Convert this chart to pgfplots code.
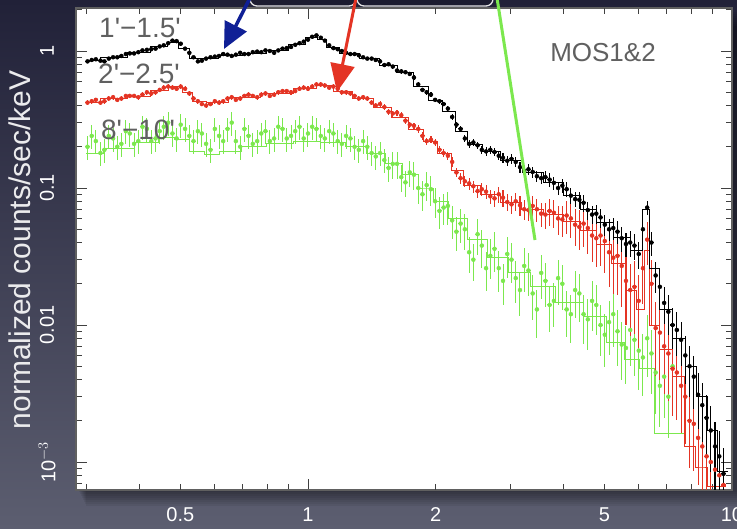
\documentclass[border=0pt]{standalone}
\usepackage{pgfplots}
\pgfplotsset{compat=1.18}
\usepackage{pgfplotstable}
\usepackage{fontspec}
\setmainfont{Liberation Sans}
\newfontfamily\lab{Liberation Sans}
\usetikzlibrary{arrows.meta}

\definecolor{slidetop}{RGB}{33,33,56}
\definecolor{slidemid}{RGB}{52,54,74}
\definecolor{slidebot}{RGB}{92,94,112}
\definecolor{specred}{RGB}{228,52,36}
\definecolor{specgreen}{RGB}{124,232,78}
\definecolor{arrowblue}{RGB}{16,32,150}
\definecolor{labgray}{RGB}{96,96,96}

% MOS1+2 spectra, three annuli: energy (keV), counts/s/keV, relative error
\pgfplotstableread{
E y ey
0.302 0.84 0.03
0.309 0.86 0.03
0.316 0.87 0.03
0.324 0.85 0.03
0.331 0.84 0.03
0.339 0.88 0.03
0.347 0.90 0.03
0.355 0.90 0.03
0.363 0.92 0.03
0.372 0.95 0.03
0.380 0.96 0.03
0.389 0.96 0.03
0.398 0.98 0.03
0.407 1.01 0.03
0.417 1.02 0.03
0.427 1.03 0.03
0.437 1.04 0.03
0.447 1.08 0.03
0.457 1.10 0.03
0.468 1.14 0.03
0.479 1.19 0.03
0.490 1.18 0.03
0.501 1.13 0.03
0.513 1.04 0.03
0.525 0.97 0.03
0.537 0.90 0.03
0.550 0.84 0.03
0.562 0.85 0.03
0.575 0.88 0.03
0.589 0.90 0.03
0.603 0.91 0.03
0.617 0.92 0.03
0.631 0.95 0.03
0.646 0.94 0.03
0.661 0.92 0.03
0.676 0.94 0.03
0.692 0.97 0.03
0.708 0.95 0.03
0.724 0.95 0.03
0.741 0.98 0.03
0.759 0.99 0.03
0.776 0.98 0.03
0.794 1.01 0.03
0.813 1.00 0.03
0.832 0.97 0.03
0.851 1.01 0.03
0.871 1.04 0.03
0.891 1.05 0.03
0.912 1.07 0.03
0.933 1.11 0.03
0.955 1.14 0.03
0.977 1.17 0.03
1.000 1.21 0.03
1.023 1.27 0.03
1.047 1.30 0.03
1.072 1.25 0.03
1.096 1.19 0.03
1.122 1.10 0.03
1.148 1.05 0.03
1.175 1.03 0.03
1.202 1.00 0.03
1.230 0.97 0.03
1.259 0.95 0.03
1.288 0.95 0.03
1.318 0.93 0.03
1.349 0.90 0.03
1.380 0.88 0.03
1.413 0.88 0.03
1.445 0.86 0.03
1.479 0.84 0.035
1.514 0.79 0.035
1.549 0.80 0.035
1.585 0.77 0.035
1.622 0.72 0.035
1.660 0.71 0.035
1.698 0.70 0.035
1.738 0.68 0.035
1.778 0.64 0.04
1.820 0.57 0.04
1.862 0.52 0.04
1.905 0.50 0.04
1.950 0.48 0.04
1.995 0.44 0.04
2.042 0.43 0.04
2.089 0.41 0.04
2.138 0.38 0.05
2.188 0.33 0.05
2.239 0.29 0.05
2.291 0.27 0.05
2.344 0.23 0.06
2.399 0.21 0.06
2.455 0.215 0.06
2.512 0.205 0.06
2.570 0.19 0.06
2.630 0.185 0.07
2.692 0.19 0.07
2.754 0.183 0.07
2.818 0.172 0.07
2.884 0.166 0.08
2.951 0.158 0.08
3.020 0.163 0.08
3.090 0.155 0.08
3.162 0.142 0.09
3.236 0.133 0.09
3.311 0.137 0.09
3.388 0.131 0.09
3.467 0.122 0.10
3.548 0.118 0.10
3.631 0.120 0.10
3.715 0.115 0.11
3.802 0.109 0.11
3.890 0.100 0.11
3.981 0.104 0.12
4.074 0.098 0.12
4.169 0.088 0.13
4.266 0.083 0.13
4.365 0.082 0.14
4.467 0.078 0.14
4.571 0.069 0.15
4.677 0.064 0.15
4.786 0.065 0.16
4.898 0.061 0.16
5.012 0.054 0.17
5.129 0.050 0.18
5.248 0.051 0.18
5.370 0.048 0.19
5.495 0.043 0.20
5.623 0.039 0.20
5.754 0.040 0.21
5.888 0.038 0.22
6.026 0.033 0.22
6.166 0.050 0.18
6.310 0.072 0.12
6.457 0.040 0.20
6.607 0.023 0.25
6.761 0.019 0.28
6.918 0.0145 0.30
7.079 0.0125 0.32
7.244 0.0100 0.33
7.413 0.0092 0.35
7.586 0.0078 0.36
7.762 0.0060 0.38
7.943 0.0050 0.40
8.128 0.0042 0.42
8.318 0.0031 0.44
8.511 0.0026 0.46
8.710 0.0021 0.48
8.913 0.0017 0.50
9.120 0.0013 0.52
9.333 0.0011 0.54
9.550 0.00082 0.55
}\blackdata

\pgfplotstableread{
E y ey
0.302 0.42 0.04
0.309 0.43 0.04
0.316 0.44 0.04
0.324 0.42 0.04
0.331 0.43 0.04
0.339 0.45 0.04
0.347 0.46 0.04
0.355 0.44 0.04
0.363 0.45 0.04
0.372 0.47 0.04
0.380 0.47 0.04
0.389 0.47 0.04
0.398 0.46 0.04
0.407 0.48 0.04
0.417 0.50 0.04
0.427 0.49 0.04
0.437 0.50 0.04
0.447 0.52 0.04
0.457 0.54 0.04
0.468 0.55 0.04
0.479 0.54 0.04
0.490 0.53 0.04
0.501 0.55 0.04
0.513 0.53 0.04
0.525 0.49 0.04
0.537 0.45 0.04
0.550 0.43 0.04
0.562 0.41 0.04
0.575 0.40 0.04
0.589 0.41 0.04
0.603 0.43 0.04
0.617 0.42 0.04
0.631 0.43 0.04
0.646 0.45 0.04
0.661 0.46 0.04
0.676 0.44 0.04
0.692 0.45 0.04
0.708 0.47 0.04
0.724 0.48 0.04
0.741 0.47 0.04
0.759 0.46 0.04
0.776 0.48 0.04
0.794 0.49 0.04
0.813 0.47 0.04
0.832 0.48 0.04
0.851 0.50 0.04
0.871 0.51 0.04
0.891 0.51 0.04
0.912 0.50 0.04
0.933 0.51 0.04
0.955 0.53 0.04
0.977 0.54 0.04
1.000 0.53 0.04
1.023 0.55 0.04
1.047 0.57 0.04
1.072 0.57 0.04
1.096 0.56 0.04
1.122 0.54 0.04
1.148 0.55 0.04
1.175 0.53 0.04
1.202 0.50 0.04
1.230 0.50 0.04
1.259 0.49 0.04
1.288 0.47 0.04
1.318 0.45 0.04
1.349 0.46 0.045
1.380 0.45 0.045
1.413 0.42 0.045
1.445 0.40 0.045
1.479 0.41 0.045
1.514 0.39 0.045
1.549 0.36 0.05
1.585 0.35 0.05
1.622 0.355 0.05
1.660 0.34 0.05
1.698 0.31 0.05
1.738 0.29 0.05
1.778 0.285 0.05
1.820 0.27 0.06
1.862 0.24 0.06
1.905 0.22 0.06
1.950 0.225 0.06
1.995 0.215 0.06
2.042 0.19 0.07
2.089 0.18 0.07
2.138 0.172 0.07
2.188 0.155 0.08
2.239 0.13 0.08
2.291 0.118 0.09
2.344 0.112 0.09
2.399 0.108 0.10
2.455 0.103 0.10
2.512 0.095 0.11
2.570 0.098 0.11
2.630 0.094 0.12
2.692 0.087 0.12
2.754 0.084 0.13
2.818 0.090 0.13
2.884 0.085 0.14
2.951 0.079 0.14
3.020 0.076 0.15
3.090 0.080 0.15
3.162 0.075 0.16
3.236 0.070 0.17
3.311 0.069 0.17
3.388 0.074 0.18
3.467 0.070 0.19
3.548 0.065 0.20
3.631 0.064 0.21
3.715 0.068 0.22
3.802 0.066 0.23
3.890 0.060 0.24
3.981 0.059 0.26
4.074 0.063 0.27
4.169 0.060 0.28
4.266 0.054 0.30
4.365 0.052 0.32
4.467 0.055 0.33
4.571 0.051 0.35
4.677 0.045 0.36
4.786 0.043 0.38
4.898 0.045 0.40
5.012 0.041 0.42
5.129 0.034 0.44
5.248 0.031 0.46
5.370 0.032 0.48
5.495 0.027 0.50
5.623 0.021 0.52
5.754 0.018 0.54
5.888 0.019 0.55
6.026 0.015 0.55
6.166 0.026 0.45
6.310 0.042 0.35
6.457 0.020 0.50
6.607 0.0095 0.55
6.761 0.0088 0.55
6.918 0.0070 0.55
7.079 0.0062 0.55
7.244 0.0048 0.55
7.413 0.0045 0.55
7.586 0.0036 0.55
7.762 0.0030 0.55
7.943 0.0020 0.55
8.128 0.0019 0.55
8.318 0.0015 0.55
8.511 0.0013 0.55
8.710 0.0011 0.55
8.913 0.00100 0.55
9.120 0.00088 0.55
9.333 0.00080 0.55
9.550 0.00068 0.55
}\reddata

\pgfplotstableread{
E y ey
0.302 0.20 0.20
0.309 0.24 0.20
0.316 0.22 0.20
0.324 0.18 0.20
0.331 0.19 0.20
0.339 0.24 0.20
0.347 0.23 0.20
0.355 0.20 0.20
0.363 0.21 0.20
0.372 0.26 0.20
0.380 0.25 0.20
0.389 0.21 0.20
0.398 0.22 0.20
0.407 0.28 0.20
0.417 0.27 0.20
0.427 0.22 0.20
0.437 0.23 0.20
0.447 0.26 0.20
0.457 0.28 0.20
0.468 0.30 0.20
0.479 0.25 0.20
0.490 0.23 0.20
0.501 0.29 0.20
0.513 0.27 0.20
0.525 0.24 0.20
0.537 0.22 0.20
0.550 0.26 0.20
0.562 0.25 0.20
0.575 0.21 0.20
0.589 0.19 0.20
0.603 0.27 0.20
0.617 0.24 0.20
0.631 0.22 0.20
0.646 0.27 0.20
0.661 0.30 0.20
0.676 0.22 0.20
0.692 0.20 0.20
0.708 0.27 0.20
0.724 0.24 0.20
0.741 0.21 0.20
0.759 0.22 0.20
0.776 0.25 0.20
0.794 0.26 0.20
0.813 0.22 0.20
0.832 0.23 0.20
0.851 0.28 0.20
0.871 0.27 0.20
0.891 0.23 0.20
0.912 0.24 0.20
0.933 0.26 0.20
0.955 0.28 0.20
0.977 0.23 0.20
1.000 0.25 0.20
1.023 0.28 0.20
1.047 0.27 0.20
1.072 0.24 0.20
1.096 0.23 0.20
1.122 0.26 0.20
1.148 0.25 0.20
1.175 0.22 0.20
1.202 0.21 0.20
1.230 0.24 0.20
1.259 0.23 0.20
1.288 0.20 0.20
1.318 0.19 0.20
1.349 0.22 0.20
1.380 0.20 0.20
1.413 0.18 0.20
1.445 0.17 0.20
1.479 0.18 0.20
1.514 0.16 0.20
1.549 0.14 0.21
1.585 0.15 0.22
1.622 0.15 0.22
1.660 0.12 0.22
1.698 0.11 0.22
1.738 0.13 0.22
1.778 0.125 0.23
1.820 0.10 0.24
1.862 0.090 0.24
1.905 0.105 0.24
1.950 0.098 0.25
1.995 0.080 0.25
2.042 0.068 0.26
2.089 0.072 0.26
2.138 0.074 0.27
2.188 0.058 0.27
2.239 0.048 0.28
2.291 0.055 0.28
2.344 0.050 0.29
2.399 0.034 0.30
2.455 0.030 0.30
2.512 0.046 0.30
2.570 0.038 0.31
2.630 0.026 0.32
2.692 0.032 0.32
2.754 0.036 0.32
2.818 0.026 0.33
2.884 0.021 0.33
2.951 0.033 0.33
3.020 0.030 0.33
3.090 0.022 0.34
3.162 0.018 0.35
3.236 0.027 0.35
3.311 0.025 0.35
3.388 0.017 0.36
3.467 0.013 0.38
3.548 0.024 0.36
3.631 0.021 0.35
3.715 0.014 0.36
3.802 0.015 0.36
3.890 0.022 0.36
3.981 0.020 0.36
4.074 0.013 0.37
4.169 0.012 0.38
4.266 0.018 0.38
4.365 0.017 0.38
4.467 0.012 0.39
4.571 0.011 0.40
4.677 0.015 0.40
4.786 0.014 0.40
4.898 0.010 0.41
5.012 0.0085 0.42
5.129 0.0105 0.42
5.248 0.012 0.42
5.370 0.0090 0.44
5.495 0.0072 0.45
5.623 0.0068 0.45
5.754 0.0092 0.45
5.888 0.0078 0.46
6.026 0.0065 0.48
6.166 0.0058 0.48
6.310 0.0080 0.48
6.457 0.0062 0.49
6.607 0.0045 0.50
6.761 0.0036 0.50
6.918 0.0042 0.50
7.079 0.0030 0.50
7.244 0.0050 0.50
}\greendata

% best-fit models (step functions)
\pgfplotstableread{
E y
0.300 0.85
0.35 0.90
0.40 0.98
0.45 1.08
0.48 1.16
0.51 1.05
0.54 0.88
0.58 0.88
0.65 0.93
0.75 0.97
0.85 1.01
0.95 1.12
1.02 1.25
1.08 1.22
1.13 1.06
1.25 0.96
1.40 0.88
1.55 0.79
1.70 0.70
1.85 0.55
2.00 0.44
2.15 0.36
2.30 0.26
2.45 0.21
2.70 0.185
3.00 0.160
3.40 0.130
3.80 0.110
4.20 0.088
4.60 0.070
5.00 0.056
5.50 0.044
6.00 0.035
6.30 0.070
6.50 0.026
7.00 0.013
7.50 0.0080
8.00 0.0050
8.50 0.0030
9.00 0.0017
9.50 0.00085
9.80 0.00085
}\blackmodel

\pgfplotstableread{
E y
0.300 0.42
0.35 0.45
0.40 0.47
0.45 0.52
0.49 0.55
0.52 0.50
0.55 0.43
0.60 0.42
0.70 0.46
0.85 0.49
1.00 0.53
1.10 0.56
1.20 0.51
1.35 0.45
1.50 0.39
1.65 0.33
1.80 0.27
1.95 0.22
2.10 0.18
2.25 0.135
2.40 0.105
2.70 0.090
3.00 0.079
3.40 0.070
3.80 0.064
4.20 0.057
4.60 0.049
5.00 0.039
5.40 0.028
5.80 0.018
6.10 0.013
6.30 0.035
6.50 0.010
7.00 0.0066
7.50 0.0042
7.95 0.0013
8.50 0.00092
9.00 0.00066
9.70 0.00066
}\redmodel

\pgfplotstableread{
E y
0.300 0.180
0.36 0.195
0.42 0.215
0.47 0.235
0.50 0.225
0.55 0.185
0.59 0.175
0.65 0.185
0.75 0.200
0.85 0.210
1.00 0.220
1.15 0.215
1.30 0.200
1.45 0.180
1.60 0.150
1.75 0.125
1.90 0.100
2.05 0.080
2.25 0.060
2.50 0.042
2.80 0.031
3.15 0.024
3.55 0.019
4.15 0.0145
4.80 0.0115
5.35 0.0075
5.84 0.0056
6.30 0.0048
6.87 0.00163
7.70 0.00163
}\greenmodel

\begin{document}
\begin{tikzpicture}[x=1pt,y=1pt]
\useasboundingbox (0,0) rectangle (737,529);
% slide background
\shade[top color=slidetop, middle color=slidemid, bottom color=slidebot] (0,0) rectangle (737,529);
% soft shadow under the panel
\foreach \d in {2,4,...,16}
  \fill[black, opacity=0.06] (78+0.5*\d,39-\d) rectangle (745,519-\d);
% callout boxes above the panel
\draw[fill=slidetop!85!black, draw=white!80!gray, line width=1.3pt, rounded corners=7pt]
  (250,523) rectangle (356,560);
\draw[fill=slidetop!85!black, draw=white!80!gray, line width=1.3pt, rounded corners=7pt]
  (357,523) rectangle (493,560);

\begin{axis}[
  at={(76pt,39pt)}, anchor=south west,
  scale only axis, width=656pt, height=482pt,
  xmode=log, ymode=log,
  xmin=0.2837, xmax=10, ymin=6.25e-4, ymax=2.06,
  axis background/.style={fill=white},
  xtick={1,10}, xticklabels={1,10},
  extra x ticks={0.5,2,5}, extra x tick labels={0.5,2,5},
  extra x tick style={major tick length=6pt},
  minor xtick={0.3,0.4,0.6,0.7,0.8,0.9,3,4,6,7,8,9},
  ytick={0.001,0.01,0.1,1}, yticklabels={10$^{-3}$,0.01,0.1,1},
  minor ytick={7e-4,8e-4,9e-4,0.002,0.003,0.004,0.005,0.006,0.007,0.008,0.009,
    0.02,0.03,0.04,0.05,0.06,0.07,0.08,0.09,0.2,0.3,0.4,0.5,0.6,0.7,0.8,0.9,2},
  tick align=inside,
  major tick length=11pt, minor tick length=6pt,
  tick style={black!75, line width=0.8pt},
  axis line style={gray!75!black, line width=1.3pt},
  xticklabel style={text=white, font=\fontsize{20}{20}\selectfont, anchor=center, yshift=-25pt},
  yticklabel style={text=white, font=\fontsize{20}{20}\selectfont, xshift=-29pt, rotate=90, anchor=center},
  error bars/error mark=none,
]
% 8'-10'
\addplot[specgreen, line width=0.9pt, const plot mark mid, mark=none] table[x=E,y=y] {\greenmodel};
\addplot[specgreen, only marks, mark=none,
  error bars/x dir=both, error bars/x fixed relative=0.0116,
  error bars/y dir=both, error bars/y explicit relative,
  error bars/error bar style={line width=1pt}]
  table[x=E,y=y,y error=ey] {\greendata};
% 2'-2.5'
\addplot[specred, line width=0.8pt, const plot mark mid, mark=none] table[x=E,y=y] {\redmodel};
\addplot[specred, only marks, mark=none,
  error bars/x dir=both, error bars/x fixed relative=0.0116,
  error bars/y dir=both, error bars/y explicit relative,
  error bars/error bar style={line width=1.1pt}]
  table[x=E,y=y,y error=ey] {\reddata};
% 1'-1.5'
\addplot[black, line width=0.6pt, const plot mark mid, mark=none] table[x=E,y=y] {\blackmodel};
\addplot[black, only marks, mark=none,
  error bars/x dir=both, error bars/x fixed relative=0.0116,
  error bars/y dir=both, error bars/y explicit relative,
  error bars/error bar style={line width=1.1pt}]
  table[x=E,y=y,y error=ey] {\blackdata};
\end{axis}

% annulus labels and instrument
\node[text=labgray, font=\lab\fontsize{28}{28}\selectfont] at (140,501) {1'−1.5'};
\node[text=labgray, font=\lab\fontsize{28}{28}\selectfont] at (139,455) {2'−2.5'};
\node[text=labgray, font=\lab\fontsize{28}{28}\selectfont] at (138,399) {8'−10'};
\node[text=labgray, font=\lab\fontsize{26}{26}\selectfont] at (603,476) {MOS1\&2};

% y axis title
\node[rotate=90, text=white!90!slidemid, font=\fontsize{30}{30}\selectfont] at (20,279) {normalized counts/sec/keV};

% pointers
\draw[arrowblue, line width=3.5pt, -{Triangle[length=26pt,width=24pt]}] (250,531) -- (224,480);
\draw[specred, line width=3pt, -{Triangle[length=28pt,width=24pt]}] (356,531) -- (337,437);
\draw[specgreen, line width=3pt] (497,531) -- (535,289);
\end{tikzpicture}
\end{document}
